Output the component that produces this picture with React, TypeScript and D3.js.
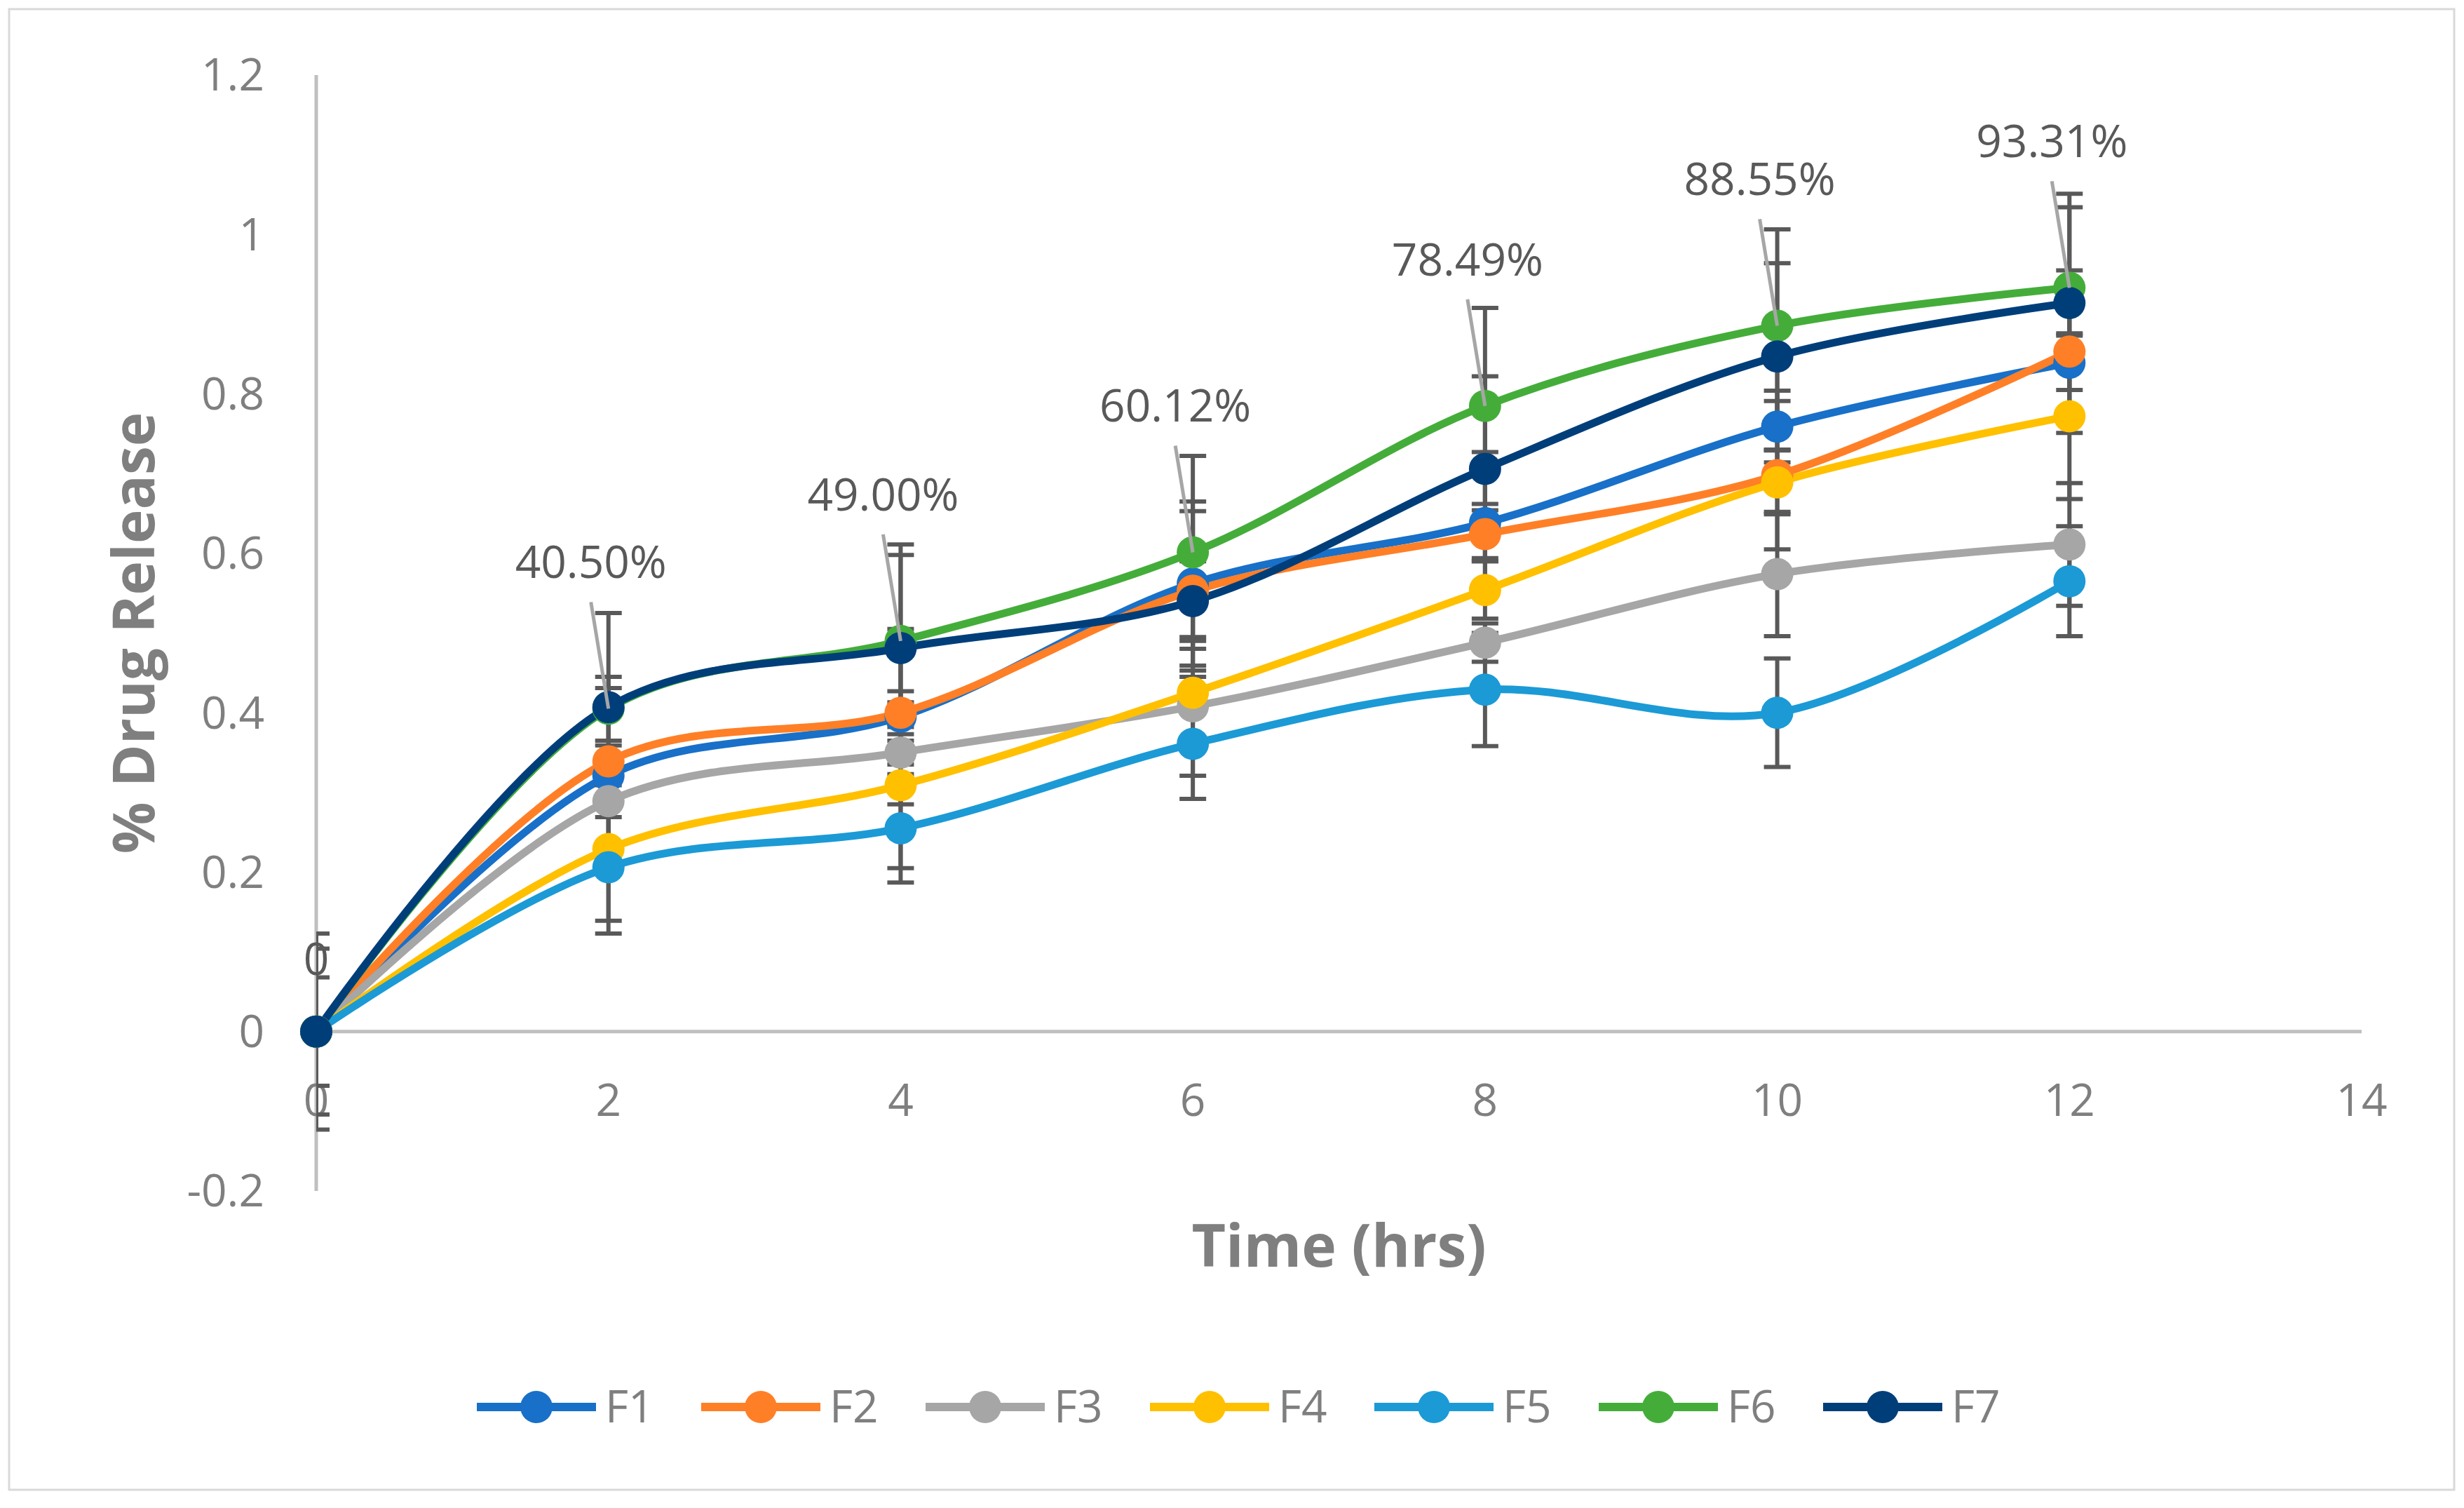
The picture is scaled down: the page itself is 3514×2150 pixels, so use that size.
import * as d3 from "d3";

const W = 3514;
const H = 2150;

const times = [0, 2, 4, 6, 8, 10, 12];
const seriesNames = ["F1", "F2", "F3", "F4", "F5", "F6", "F7"];
const seriesColors = ["#1870C8", "#FF7F27", "#A6A6A6", "#FFC000", "#1B9AD6", "#44AD3A", "#003E7A"];

const f1 = [0, 0.321, 0.395, 0.562, 0.638, 0.759, 0.839];
const f2 = [0, 0.339, 0.4, 0.553, 0.624, 0.698, 0.853];
const f3 = [0, 0.289, 0.35, 0.408, 0.488, 0.574, 0.611];
const f4 = [0, 0.229, 0.309, 0.425, 0.554, 0.689, 0.772];
const f5 = [0, 0.206, 0.255, 0.361, 0.429, 0.4, 0.565];
const f6 = [0, 0.405, 0.49, 0.6012, 0.7849, 0.8855, 0.9331];
const f7 = [0, 0.407, 0.481, 0.54, 0.706, 0.847, 0.914];

// +/- error values, one per time point
const e1 = [0.123, 0.11, 0.11, 0.103, 0.089, 0.045, 0.034];
const e2 = [0.068, 0.02, 0.027, 0.1, 0.03, 0.093, 0.102];
const e3 = [0.104, 0.02, 0.015, 0.087, 0.024, 0.078, 0.077];
const e4 = [0, 0.09, 0.104, 0.02, 0.036, 0.04, 0.104];
const e5 = [0, 0.083, 0.068, 0.069, 0.071, 0.068, 0.069];
const e6 = [0, 0.04, 0.108, 0.121, 0.123, 0.121, 0.101];
const e7 = [0, 0.118, 0.13, 0.05, 0.116, 0.117, 0.137];

const f6Labels = ["0", "40.50%", "49.00%", "60.12%", "78.49%", "88.55%", "93.31%"];

const xTicks = [0, 2, 4, 6, 8, 10, 12, 14];
const yTicks = [-0.2, 0, 0.2, 0.4, 0.6, 0.8, 1, 1.2];
const yTickLabels = ["-0.2", "0", "0.2", "0.4", "0.6", "0.8", "1", "1.2"];

const values = [f1, f2, f3, f4, f5, f6, f7];
const errors = [e1, e2, e3, e4, e5, e6, e7];

const FONT = "'Open Sans', 'Noto Sans', sans-serif";

export default function App() {
  const x = d3.scaleLinear().domain([0, 14]).range([451, 3368]);
  const y = d3.scaleLinear().domain([-0.2, 1.2]).range([1698, 107]);

  const line = d3
    .line<number>()
    .x((_, i) => x(times[i]))
    .y((d) => y(d))
    .curve(d3.curveCatmullRom.alpha(0.5));

  const cap = 19;
  const legendX0 = 680;
  const legendStep = 320;
  const legendY = 2006;

  return (
    <svg
      width={W}
      height={H}
      viewBox={`0 0 ${W} ${H}`}
      style={{ position: "absolute", left: 0, top: 0, display: "block", background: "#fff" }}
      fontFamily={FONT}
    >
      <defs>
        <clipPath id="plot">
          <rect x={x(0)} y={y(1.2) - 60} width={x(14) - x(0)} height={y(-0.2) - y(1.2) + 60} />
        </clipPath>
      </defs>
      <rect x={13} y={13} width={3487} height={2111} fill="#fff" stroke="#D9D9D9" strokeWidth={3} />

      {/* axes */}
      <line x1={x(0)} x2={x(14)} y1={y(0)} y2={y(0)} stroke="#BFBFBF" strokeWidth={5} />
      <line x1={x(0)} x2={x(0)} y1={y(1.2)} y2={y(-0.2)} stroke="#BFBFBF" strokeWidth={5} />

      {yTicks.map((t, i) => (
        <text key={t} x={377} y={y(t)} dy="0.35em" textAnchor="end" fontSize={64} fill="#7F7F7F">
          {yTickLabels[i]}
        </text>
      ))}
      {xTicks.map((t) => (
        <text key={t} x={x(t)} y={y(0) + 98} dy="0.35em" textAnchor="middle" fontSize={64} fill="#7F7F7F">
          {t}
        </text>
      ))}

      {/* lines */}
      {values.map((v, s) => (
        <path key={s} d={line(v) ?? ""} fill="none" stroke={seriesColors[s]} strokeWidth={11} strokeLinejoin="round" />
      ))}

      {/* error bars */}
      <g clipPath="url(#plot)" stroke="#595959" strokeWidth={6}>
        {values.map((v, s) =>
          v.map((d, i) => {
            const e = errors[s][i];
            if (!e) return null;
            const cx = x(times[i]);
            const y1 = y(d + e);
            const y2 = y(d - e);
            return (
              <g key={`${s}-${i}`}>
                <line x1={cx} x2={cx} y1={y1} y2={y2} />
                <line x1={cx - cap} x2={cx + cap} y1={y1} y2={y1} />
                <line x1={cx - cap} x2={cx + cap} y1={y2} y2={y2} />
              </g>
            );
          })
        )}
      </g>

      {/* markers */}
      {values.map((v, s) =>
        v.map((d, i) => <circle key={`${s}-${i}`} cx={x(times[i])} cy={y(d)} r={23} fill={seriesColors[s]} />)
      )}

      {/* F6 data labels with leader lines */}
      {f6.map((d, i) => {
        const px = x(times[i]);
        const py = y(d);
        if (i === 0) {
          return (
            <text key={i} x={px} y={py - 103} dy="0.35em" textAnchor="middle" fontSize={64} fill="#595959">
              {f6Labels[i]}
            </text>
          );
        }
        return (
          <g key={i}>
            <line x1={px - 25} y1={py - 152} x2={px} y2={py} stroke="#A6A6A6" strokeWidth={5} />
            <text x={px - 25} y={py - 186} textAnchor="middle" fontSize={64} fill="#595959">
              {f6Labels[i]}
            </text>
          </g>
        );
      })}

      {/* axis titles */}
      <text x={(x(0) + x(14)) / 2} y={1806} textAnchor="middle" fontSize={84} fontWeight="bold" fill="#7F7F7F">
        Time (hrs)
      </text>
      <text
        transform={`translate(220, ${(y(1.2) + y(-0.2)) / 2}) rotate(-90)`}
        textAnchor="middle"
        fontSize={82}
        fontWeight="bold"
        fill="#7F7F7F"
      >
        % Drug Release
      </text>

      {/* legend */}
      {seriesNames.map((n, s) => {
        const lx = legendX0 + s * legendStep;
        return (
          <g key={n}>
            <line x1={lx} x2={lx + 170} y1={legendY} y2={legendY} stroke={seriesColors[s]} strokeWidth={12} />
            <circle cx={lx + 85} cy={legendY} r={23} fill={seriesColors[s]} />
            <text x={lx + 183} y={legendY} dy="0.35em" fontSize={64} fill="#7F7F7F">
              {n}
            </text>
          </g>
        );
      })}
    </svg>
  );
}
